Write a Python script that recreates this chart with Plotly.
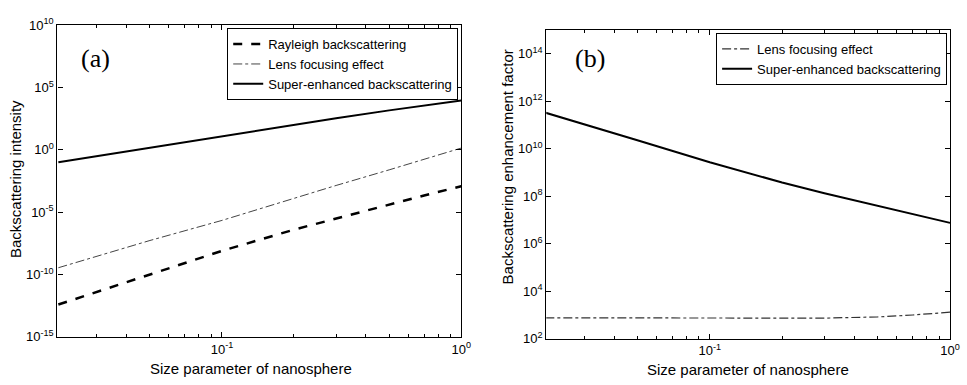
import plotly.graph_objects as go

# Size parameter samples (x axis)
size_param = [0.0207, 0.03, 0.05, 0.1, 0.2, 0.3, 0.5, 0.7, 1.0]

# Panel (a): backscattering intensity
rayleigh = [3.9e-13, 4.0e-12, 1.0e-10, 7.9e-9, 4.0e-7, 3.2e-6, 4.0e-5, 2.2e-4, 1.2e-3]
lens_a = [3.5e-10, 2.9e-9, 5.4e-8, 2.2e-6, 1.4e-4, 1.4e-3, 2.5e-2, 0.18, 1.4]
super_a = [0.1, 0.31, 1.48, 12.6, 105, 347, 1480, 3800, 9330]

# Panel (b): backscattering enhancement factor
lens_b = [760, 760, 740, 725, 725, 740, 830, 1000, 1320]
super_b = [3.3e11, 1.1e11, 2.3e10, 2.7e9, 3.8e8, 1.35e8, 4.0e7, 1.7e7, 7.6e6]

# Tick labels
x_tickvals = [0.1, 1.0]
x_ticktext = ["10<sup>-1</sup>", "10<sup>0</sup>"]
x_minor_vals = [0.03, 0.04, 0.05, 0.06, 0.07, 0.08, 0.09, 0.2, 0.3, 0.4, 0.5, 0.6, 0.7, 0.8, 0.9]
ya_tickvals = [1e-15, 1e-10, 1e-5, 1e0, 1e5, 1e10]
ya_ticktext = ["10<sup>-15</sup>", "10<sup>-10</sup>", "10<sup>-5</sup>", "10<sup>0</sup>", "10<sup>5</sup>", "10<sup>10</sup>"]
yb_tickvals = [1e2, 1e4, 1e6, 1e8, 1e10, 1e12, 1e14]
yb_ticktext = ["10<sup>2</sup>", "10<sup>4</sup>", "10<sup>6</sup>", "10<sup>8</sup>", "10<sup>10</sup>", "10<sup>12</sup>", "10<sup>14</sup>"]

W, H = 967, 385
FONT = "Liberation Sans, Arial, sans-serif"
SERIF = "Liberation Serif, Times New Roman, serif"

fig = go.Figure()
fig.add_trace(go.Scatter(x=size_param, y=rayleigh, mode="lines", name="Rayleigh backscattering",
                         line=dict(color="black", width=2.5, dash="dash"), xaxis="x", yaxis="y"))
fig.add_trace(go.Scatter(x=size_param, y=lens_a, mode="lines", name="Lens focusing effect",
                         line=dict(color="#444444", width=1, dash="dashdot"), xaxis="x", yaxis="y"))
fig.add_trace(go.Scatter(x=size_param, y=super_a, mode="lines", name="Super-enhanced backscattering",
                         line=dict(color="black", width=2), xaxis="x", yaxis="y"))
fig.add_trace(go.Scatter(x=size_param, y=lens_b, mode="lines", name="Lens focusing effect",
                         line=dict(color="#333333", width=1.2, dash="dashdot"), xaxis="x2", yaxis="y2",
                         legend="legend2"))
fig.add_trace(go.Scatter(x=size_param, y=super_b, mode="lines", name="Super-enhanced backscattering",
                         line=dict(color="black", width=2), xaxis="x2", yaxis="y2", legend="legend2"))

axis_common = dict(type="log", showline=True, linecolor="black", linewidth=1.2, mirror="ticks",
                   ticks="inside", ticklen=5, tickcolor="black", showgrid=False, zeroline=False,
                   tickfont=dict(family=FONT, size=13, color="black"))
minor_common = dict(type="log", showline=False, mirror="ticks", ticks="inside", ticklen=3,
                    tickcolor="black", showgrid=False, zeroline=False, showticklabels=False,
                    tickvals=x_minor_vals)

xa_dom = [58 / W, 466 / W]
xb_dom = [552 / W, 960 / W]
legend_common = dict(xanchor="right", yanchor="top", bgcolor="white", bordercolor="black",
                     borderwidth=1, font=dict(family=FONT, size=13, color="black"),
                     tracegroupgap=0, itemwidth=30)
fig.update_layout(
    width=W, height=H, margin=dict(l=0, r=0, t=0, b=0),
    paper_bgcolor="white", plot_bgcolor="white",
    font=dict(family=FONT, color="black"),
    xaxis=dict(axis_common, domain=xa_dom, anchor="y", range=[-1.688, 0],
               tickvals=x_tickvals, ticktext=x_ticktext),
    yaxis=dict(axis_common, domain=[1 - 343 / H, 1 - 17 / H], anchor="x", range=[-15, 10],
               tickvals=ya_tickvals, ticktext=ya_ticktext),
    xaxis3=dict(minor_common, domain=xa_dom, anchor="y", overlaying="x", range=[-1.688, 0]),
    xaxis2=dict(axis_common, domain=xb_dom, anchor="y2", range=[-1.68, 0],
                tickvals=x_tickvals, ticktext=x_ticktext),
    yaxis2=dict(axis_common, domain=[1 - 345 / H, 1 - 22 / H], anchor="x2", range=[2, 15],
                tickvals=yb_tickvals, ticktext=yb_ticktext),
    xaxis4=dict(minor_common, domain=xb_dom, anchor="y2", overlaying="x2", range=[-1.68, 0]),
    legend=dict(legend_common, x=463 / W, y=1 - 20 / H),
    legend2=dict(legend_common, x=957 / W, y=1 - 25 / H),
    showlegend=True,
)

# invisible anchor traces so the minor-tick axes are drawn
fig.add_trace(go.Scatter(x=[1.0], y=[1e10], mode="markers", marker=dict(opacity=0), xaxis="x3", yaxis="y",
                         showlegend=False, hoverinfo="skip"))
fig.add_trace(go.Scatter(x=[1.0], y=[1e14], mode="markers", marker=dict(opacity=0), xaxis="x4", yaxis="y2",
                         showlegend=False, hoverinfo="skip"))


def ann(text, x, y, size, family=FONT, angle=0):
    return dict(text=text, x=x / W, y=1 - y / H, xref="paper", yref="paper", showarrow=False,
                xanchor="center", yanchor="middle", textangle=angle,
                font=dict(family=family, size=size, color="black"))


fig.update_layout(annotations=[
    ann("(a)", 96, 52, 26, SERIF),
    ann("(b)", 596, 52, 26, SERIF),
    ann("Size parameter of nanosphere", 254, 376, 15),
    ann("Size parameter of nanosphere", 756, 377, 15),
    ann("Backscattering intensity", 15, 178, 15, angle=-90),
    ann("Backscattering enhancement factor", 513, 165, 15, angle=-90),
])

fig.write_html("out.html", config={"displayModeBar": False},
               post_script="document.body.style.margin='0';")
